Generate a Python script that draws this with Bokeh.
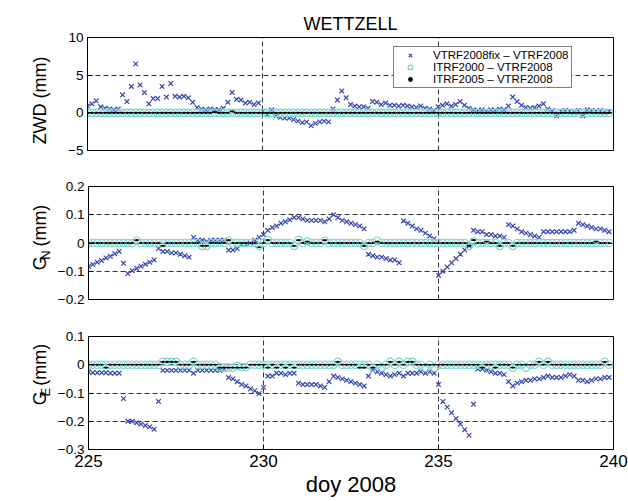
import math
from bokeh.plotting import figure
from bokeh.models import (ColumnDataSource, FixedTicker, Range1d, Legend, LegendItem, Label)
from bokeh.layouts import column, row
from bokeh.embed import file_html
from bokeh.resources import INLINE

# ---------------- data ----------------
title_text = "WETTZELL"
x_label = "doy 2008"
series_names = ["VTRF2008fix \u2013 VTRF2008", "ITRF2000 \u2013 VTRF2008", "ITRF2005 \u2013 VTRF2008"]

days = [225, 226, 227, 228, 229, 230, 231, 232, 233, 234, 235, 236, 237, 238, 239]
sample_hours = [0, 3, 6, 9, 12, 15, 18, 21]

x_ticks = [225, 230, 235, 240]
x_tick_labels = ["225", "230", "235", "240"]

zwd_ticks = [-5, 0, 5, 10]
zwd_tick_labels = ["\u22125", "0", "5", "10"]
gn_ticks = [-0.2, -0.1, 0, 0.1, 0.2]
gn_tick_labels = ["\u22120.2", "\u22120.1", "0", "0.1", "0.2"]
ge_ticks = [-0.3, -0.2, -0.1, 0, 0.1]
ge_tick_labels = ["\u22120.3", "\u22120.2", "\u22120.1", "0", "0.1"]

# ZWD (mm), one row per day, 3-hourly
zwd_fix = [
    [0.9, 1.2, 1.6, 0.8, 0.6, 0.5, 0.4, 0.5],
    [2.4, 1.5, 3.5, 6.5, 3.7, 2.7, 1.2, 1.9],
    [1.9, 3.5, 2.1, 3.9, 2.2, 2.1, 2.2, 2.0],
    [1.4, 0.7, 0.5, 0.4, 0.5, 0.4, 0.4, 0.6],
    [1.4, 2.7, 1.8, 1.7, 1.3, 1.4, 1.1, 1.3],
    [0.2, -0.3, 0.4, -0.4, -0.6, -0.7, -0.7, -0.9],
    [-1.1, -1.3, -1.2, -1.7, -1.4, -1.2, -1.1, -1.2],
    [0.5, 1.7, 2.9, 2.0, 1.1, 0.9, 0.8, 0.8],
    [0.6, 1.5, 1.4, 1.1, 1.3, 1.0, 1.0, 0.9],
    [1.0, 0.9, 0.8, 0.7, 0.9, 0.6, 0.5, 0.3],
    [0.8, 1.0, 1.2, 0.9, 1.1, 1.5, 1.0, 0.6],
    [0.4, 0.3, 0.4, 0.2, 0.4, 0.3, 0.5, 0.4],
    [0.9, 2.1, 1.5, 1.0, 0.7, 0.6, 0.7, 0.9],
    [1.2, 0.5, 0.3, -0.4, 0.2, 0.3, 0.2, 0.1],
    [0.3, -0.4, 0.4, 0.3, 0.2, 0.3, 0.1, 0.2],
]
zwd_itrf2000 = [
    [0.0, 0.0, 0.0, 0.0, 0.0, 0.0, 0.0, 0.0],
    [0.0, 0.0, 0.0, 0.0, 0.0, 0.0, 0.0, 0.0],
    [0.0, 0.0, 0.0, 0.0, 0.0, 0.0, 0.0, 0.0],
    [0.0, 0.0, 0.0, 0.0, 0.0, 0.0, 0.0, 0.0],
    [0.0, 0.0, 0.0, 0.0, 0.0, 0.0, 0.0, 0.0],
    [0.0, 0.0, 0.0, 0.0, 0.0, 0.0, 0.0, 0.0],
    [0.0, 0.0, 0.0, 0.0, 0.0, 0.0, 0.0, 0.0],
    [0.0, 0.0, 0.0, 0.0, 0.0, 0.0, 0.0, 0.0],
    [0.0, 0.0, 0.0, 0.0, 0.0, 0.0, 0.0, 0.0],
    [0.0, 0.0, 0.0, 0.0, 0.0, 0.0, 0.0, 0.0],
    [0.0, 0.0, 0.0, 0.0, 0.0, 0.0, 0.0, 0.0],
    [0.0, 0.0, 0.0, 0.0, 0.0, 0.0, 0.0, 0.0],
    [0.0, 0.0, 0.0, 0.0, 0.0, 0.0, 0.0, 0.0],
    [0.0, 0.0, 0.0, 0.0, 0.0, 0.0, 0.0, 0.0],
    [0.0, 0.0, 0.0, 0.0, 0.0, 0.0, 0.0, 0.0],
]
zwd_itrf2005 = [
    [0.0, 0.0, 0.0, 0.0, 0.0, 0.0, 0.0, 0.0],
    [0.0, 0.0, 0.0, 0.0, 0.0, 0.0, 0.0, 0.0],
    [0.0, 0.0, 0.0, 0.0, 0.0, 0.0, 0.0, 0.0],
    [0.0, 0.0, 0.0, 0.0, 0.0, 0.1, 0.0, 0.0],
    [0.0, 0.2, 0.0, 0.0, 0.0, 0.0, 0.0, 0.0],
    [0.0, 0.0, 0.0, 0.0, 0.0, 0.0, 0.0, 0.0],
    [0.0, 0.0, 0.0, 0.0, 0.0, 0.0, 0.0, 0.0],
    [0.0, 0.0, 0.0, 0.0, 0.0, 0.0, 0.0, 0.0],
    [0.0, 0.0, 0.0, 0.0, 0.0, 0.0, 0.0, 0.0],
    [0.0, 0.0, 0.0, 0.0, 0.0, 0.0, 0.0, 0.0],
    [0.0, 0.0, 0.0, 0.0, 0.0, 0.0, 0.0, 0.0],
    [0.0, 0.0, 0.0, 0.0, 0.0, 0.0, 0.0, 0.0],
    [0.0, 0.0, 0.0, 0.0, 0.0, 0.0, 0.0, 0.0],
    [0.0, 0.0, 0.0, 0.0, 0.0, 0.0, 0.0, 0.0],
    [0.0, 0.0, 0.0, 0.0, 0.0, 0.0, 0.0, 0.0],
]

# G_N (mm)
gn_fix = [
    [-0.083, -0.076, -0.068, -0.062, -0.053, -0.047, -0.038, -0.030],
    [-0.072, -0.108, -0.098, -0.090, -0.082, -0.075, -0.068, -0.060],
    [-0.020, -0.030, -0.030, -0.035, -0.035, -0.040, -0.045, -0.050],
    [0.020, 0.010, 0.010, 0.005, 0.010, 0.010, 0.010, 0.010],
    [-0.025, -0.025, -0.020, -0.005, -0.005, 0.000, 0.010, 0.020],
    [0.030, 0.045, 0.055, 0.060, 0.070, 0.075, 0.082, 0.090],
    [0.090, 0.085, 0.080, 0.080, 0.080, 0.080, 0.075, 0.085],
    [0.100, 0.090, 0.080, 0.075, 0.070, 0.065, 0.060, 0.050],
    [-0.040, -0.045, -0.050, -0.050, -0.055, -0.060, -0.060, -0.070],
    [0.078, 0.070, 0.060, 0.050, 0.045, 0.035, 0.025, 0.015],
    [-0.115, -0.100, -0.085, -0.070, -0.055, -0.040, -0.025, -0.010],
    [0.045, 0.040, 0.040, 0.030, 0.030, 0.025, 0.025, 0.020],
    [0.065, 0.060, 0.050, 0.040, 0.035, 0.030, 0.025, 0.020],
    [0.040, 0.040, 0.040, 0.040, 0.040, 0.040, 0.040, 0.045],
    [0.070, 0.065, 0.060, 0.055, 0.050, 0.050, 0.045, 0.040],
]
gn_itrf2000 = [
    [0.0, 0.0, 0.0, 0.0, 0.0, 0.0, 0.0, 0.0],
    [0.0, 0.0, 0.0, 0.008, 0.0, 0.0, 0.0, 0.0],
    [0.0, 0.0, 0.0, 0.0, 0.0, 0.0, 0.0, 0.0],
    [0.0, 0.0, -0.01, -0.01, 0.0, 0.0, 0.0, 0.0],
    [0.008, 0.0, 0.0, 0.0, 0.0, 0.0, 0.0, -0.01],
    [0.0, 0.01, 0.0, 0.0, 0.0, 0.0, 0.0, -0.01],
    [0.01, 0.0, 0.005, 0.0, 0.0, 0.0, 0.008, 0.0],
    [0.0, 0.0, 0.0, 0.0, 0.0, 0.0, 0.0, -0.01],
    [0.0, 0.0, 0.008, 0.0, 0.0, 0.0, 0.0, 0.0],
    [0.0, 0.0, 0.0, 0.0, 0.0, 0.0, 0.0, 0.0],
    [0.0, 0.0, 0.0, 0.0, 0.0, 0.0, 0.0, -0.01],
    [0.005, 0.0, 0.0, 0.0, 0.0, 0.0, -0.01, 0.0],
    [0.0, -0.01, 0.0, 0.0, 0.0, 0.0, 0.0, 0.0],
    [0.0, 0.0, 0.0, 0.0, 0.0, 0.0, 0.0, 0.0],
    [0.0, 0.0, 0.0, 0.0, 0.0, 0.0, 0.0, 0.0],
]
gn_itrf2005 = [
    [0.0, 0.0, 0.0, 0.0, 0.0, 0.0, 0.0, 0.0],
    [0.0, 0.0, 0.0, 0.01, 0.0, 0.0, 0.0, 0.0],
    [0.0, -0.01, 0.0, 0.0, 0.0, 0.0, 0.0, 0.0],
    [0.0, 0.0, -0.01, -0.01, 0.0, 0.0, 0.0, 0.0],
    [0.01, 0.0, 0.0, 0.0, 0.0, 0.0, 0.0, -0.015],
    [0.0, 0.01, 0.0, 0.0, 0.0, 0.0, 0.0, -0.01],
    [0.01, 0.0, 0.005, 0.0, 0.0, 0.0, 0.01, 0.0],
    [0.0, 0.0, 0.0, 0.0, 0.0, 0.0, 0.0, -0.01],
    [0.0, 0.0, 0.005, 0.0, 0.0, 0.0, 0.0, 0.0],
    [0.0, 0.0, 0.0, 0.0, 0.0, 0.0, 0.0, 0.0],
    [0.0, 0.0, 0.0, 0.0, 0.0, 0.0, 0.0, -0.01],
    [0.01, 0.0, 0.0, 0.005, 0.0, 0.0, -0.01, 0.0],
    [0.0, -0.01, 0.0, 0.0, 0.0, 0.0, 0.0, 0.0],
    [0.0, 0.0, 0.0, 0.0, 0.0, 0.0, 0.0, 0.0],
    [0.0, 0.0, 0.0, 0.0, 0.005, 0.0, 0.0, 0.0],
]

# G_E (mm)
ge_fix = [
    [-0.025, -0.028, -0.028, -0.028, -0.028, -0.030, -0.030, -0.030],
    [-0.120, -0.200, -0.200, -0.205, -0.210, -0.215, -0.220, -0.228],
    [-0.130, -0.020, -0.020, -0.020, -0.020, -0.020, -0.020, -0.020],
    [-0.030, -0.020, -0.020, -0.020, -0.020, -0.020, -0.020, -0.015],
    [-0.045, -0.050, -0.060, -0.070, -0.075, -0.085, -0.092, -0.102],
    [-0.080, -0.040, -0.040, -0.030, -0.030, -0.035, -0.030, -0.030],
    [-0.065, -0.070, -0.070, -0.070, -0.070, -0.075, -0.080, -0.060],
    [-0.040, -0.045, -0.050, -0.055, -0.060, -0.065, -0.070, -0.075],
    [-0.040, -0.020, -0.025, -0.030, -0.035, -0.040, -0.035, -0.030],
    [-0.040, -0.030, -0.030, -0.030, -0.025, -0.030, -0.025, -0.030],
    [-0.070, -0.130, -0.150, -0.170, -0.190, -0.210, -0.230, -0.250],
    [-0.140, -0.015, -0.015, -0.020, -0.025, -0.030, -0.030, -0.035],
    [-0.060, -0.075, -0.065, -0.060, -0.055, -0.055, -0.050, -0.050],
    [-0.045, -0.040, -0.045, -0.045, -0.045, -0.040, -0.035, -0.040],
    [-0.055, -0.055, -0.060, -0.055, -0.050, -0.050, -0.045, -0.045],
]
ge_itrf2000 = [
    [0.0, 0.0, 0.0, 0.0, 0.0, 0.0, 0.0, 0.0],
    [0.0, 0.0, 0.0, 0.0, 0.0, 0.0, 0.0, 0.0],
    [0.0, 0.01, 0.01, 0.01, 0.01, 0.0, 0.0, 0.0],
    [0.01, 0.0, 0.0, 0.0, 0.0, 0.0, -0.008, -0.01],
    [-0.01, -0.01, -0.005, -0.008, -0.008, 0.0, 0.0, 0.0],
    [0.0, 0.0, 0.0, 0.0, 0.0, 0.0, 0.0, 0.0],
    [0.0, 0.0, 0.0, 0.0, 0.0, 0.0, 0.0, 0.0],
    [0.0, 0.01, 0.0, 0.0, 0.0, 0.0, 0.0, 0.0],
    [0.0, -0.01, 0.0, -0.01, 0.0, 0.01, 0.0, 0.01],
    [0.0, 0.01, 0.01, 0.0, 0.0, -0.01, 0.0, -0.01],
    [0.0, 0.0, 0.0, 0.0, 0.0, 0.0, 0.0, 0.0],
    [0.0, 0.0, 0.0, 0.0, 0.0, 0.0, 0.0, 0.0],
    [0.0, -0.01, 0.0, 0.0, -0.01, 0.0, 0.0, 0.01],
    [0.0, 0.01, 0.0, 0.0, 0.0, 0.0, 0.0, 0.0],
    [0.0, 0.0, 0.0, 0.0, 0.0, 0.0, 0.01, 0.0],
]
ge_itrf2005 = [
    [0.0, 0.0, 0.0, 0.0, -0.01, 0.0, 0.0, 0.0],
    [0.0, 0.0, 0.0, 0.0, 0.0, 0.0, 0.0, 0.0],
    [0.0, 0.01, 0.01, 0.01, 0.01, 0.0, 0.0, 0.0],
    [0.01, 0.0, 0.0, 0.0, 0.0, 0.0, -0.01, -0.01],
    [-0.01, -0.01, -0.01, -0.01, -0.01, 0.0, 0.0, 0.0],
    [0.0, -0.01, 0.0, -0.01, 0.0, -0.01, 0.0, -0.01],
    [0.0, 0.0, 0.0, 0.0, 0.0, 0.0, 0.0, 0.0],
    [0.0, 0.01, 0.0, 0.0, 0.0, 0.0, -0.01, -0.01],
    [0.0, -0.01, 0.0, 0.0, 0.0, 0.01, 0.0, 0.01],
    [0.0, 0.01, 0.01, 0.0, 0.0, 0.0, 0.0, 0.0],
    [0.0, 0.0, 0.0, 0.0, 0.0, 0.0, 0.0, 0.0],
    [0.0, 0.0, -0.01, 0.0, 0.0, -0.01, 0.0, 0.0],
    [0.0, -0.01, 0.0, 0.0, 0.0, 0.0, 0.0, 0.01],
    [0.0, 0.01, 0.0, 0.0, 0.0, 0.0, 0.0, 0.0],
    [0.0, 0.0, 0.0, 0.0, 0.0, 0.0, 0.01, 0.0],
]

# ---------------- styling ----------------
FONT = "Liberation Sans"
BLUE = "#3646b0"
CYAN = "#7fd6cf"
FRAME_H = 113
LABEL_W = 54
MAIN_W = 574

t = [d + h / 24.0 for d in days for h in sample_hours]


def flat(rows):
    return [v for row_ in rows for v in row_]


x_range = Range1d(225, 240)


def make_panel(height, b_top, b_bottom, ylim, yticks, ylabels, fix, i2000, i2005, show_x):
    p = figure(width=MAIN_W, height=height, x_range=x_range, y_range=Range1d(*ylim),
               output_backend="svg", toolbar_location=None,
               min_border_left=33, min_border_right=15,
               min_border_top=b_top, min_border_bottom=b_bottom,
               background_fill_color="white", border_fill_color="white",
               outline_line_color="black", outline_line_width=1)
    src = ColumnDataSource(dict(t=t, fix=flat(fix), a=flat(i2000), b=flat(i2005)))
    r1 = p.scatter("t", "fix", source=src, marker="x", size=6.5, line_color=BLUE, line_width=1.2)
    r2 = p.scatter("t", "a", source=src, marker="circle", size=7.5, line_color=CYAN,
                   fill_color=None, line_width=1.2)
    p.scatter("t", "b", source=src, marker="dash", size=5, line_color="black", line_width=1.2)
    r3 = p.scatter("t", "b", source=src, marker="circle", size=2.2, line_color=None,
                   fill_color="black")

    p.yaxis.ticker = FixedTicker(ticks=yticks)
    p.yaxis.major_label_overrides = dict(zip(yticks, ylabels))
    p.xaxis.ticker = FixedTicker(ticks=x_ticks)
    p.xaxis.major_label_overrides = dict(zip(x_ticks, x_tick_labels))
    for ax in (p.xaxis[0], p.yaxis[0]):
        ax.major_tick_in = 5
        ax.major_tick_out = 0
        ax.minor_tick_line_color = None
        ax.axis_line_color = "black"
        ax.major_tick_line_color = "black"
        ax.major_label_text_font = FONT
        ax.major_label_text_color = "black"
    p.yaxis.major_label_text_font_size = "13.5px"
    p.yaxis.major_label_standoff = 4
    if show_x:
        p.xaxis.major_label_text_font_size = "17px"
        p.xaxis.major_label_standoff = 5
        p.xaxis.axis_label = x_label
        p.xaxis.axis_label_text_font = FONT
        p.xaxis.axis_label_text_font_size = "22px"
        p.xaxis.axis_label_text_font_style = "normal"
        p.xaxis.axis_label_text_color = "black"
        p.xaxis.axis_label_standoff = 2
    else:
        p.xaxis.visible = False

    p.grid.grid_line_color = "black"
    p.grid.grid_line_dash = "5 3"
    p.grid.grid_line_width = 0.8
    p.xgrid.ticker = FixedTicker(ticks=x_ticks)
    p.ygrid.ticker = FixedTicker(ticks=yticks)
    return p, (r1, r2, r3)


def label_fig(height, b_top, main, sub=None):
    q = figure(width=LABEL_W, height=height, x_range=Range1d(0, LABEL_W),
               y_range=Range1d(0, height), output_backend="svg", toolbar_location=None,
               min_border_left=0, min_border_right=0, min_border_top=0, min_border_bottom=0,
               outline_line_color=None, background_fill_color="white",
               border_fill_color="white")
    q.axis.visible = False
    q.grid.visible = False
    yc = height - b_top - FRAME_H / 2
    xb = 39.5
    common = dict(x_units="data", y_units="data", angle=math.pi / 2,
                  text_baseline="middle", text_font=FONT, text_color="black")
    if sub is None:
        q.add_layout(Label(x=xb, y=yc, text=main, text_align="center",
                           text_font_size="18px", **common))
        return q
    w_main = 0.778 * 18
    w_sub = 0.722 * 13
    gap = 0.278 * 18 + 3
    w_rest = (0.333 + 0.833 + 0.833 + 0.333) * 18
    y0 = yc - (w_main + w_sub + gap + w_rest) / 2
    q.add_layout(Label(x=xb, y=y0, text=main, text_align="left",
                       text_font_size="18px", **common))
    q.add_layout(Label(x=xb + 5, y=y0 + w_main, text=sub, text_align="left",
                       text_font_size="13px", **common))
    q.add_layout(Label(x=xb, y=y0 + w_main + w_sub + gap, text="(mm)",
                       text_align="left", text_font_size="18px", **common))
    return q


H1, T1, B1 = 168, 37, 18
H2, T2, B2 = 150, 18, 19
H3, T3, B3 = 183, 18, 52

p1, rs = make_panel(H1, T1, B1, (-5, 10), zwd_ticks, zwd_tick_labels,
                    zwd_fix, zwd_itrf2000, zwd_itrf2005, False)
p1.title.text = title_text
p1.title.align = "center"
p1.title.text_font = FONT
p1.title.text_font_size = "18px"
p1.title.text_font_style = "normal"
p1.title.text_color = "black"
p1.title.standoff = 8

legend = Legend(items=[LegendItem(label=series_names[0], renderers=[rs[0]]),
                       LegendItem(label=series_names[1], renderers=[rs[1]]),
                       LegendItem(label=series_names[2], renderers=[rs[2]])],
                location=(306, 62), label_text_font=FONT, label_text_font_size="11.5px",
                label_text_color="black", border_line_color="black", border_line_width=1,
                background_fill_color="white", background_fill_alpha=1.0,
                glyph_width=28, glyph_height=12, label_height=12, label_standoff=9,
                padding=2, spacing=0, margin=0)
p1.add_layout(legend)

p2, _ = make_panel(H2, T2, B2, (-0.2, 0.2), gn_ticks, gn_tick_labels,
                   gn_fix, gn_itrf2000, gn_itrf2005, False)
p3, _ = make_panel(H3, T3, B3, (-0.3, 0.1), ge_ticks, ge_tick_labels,
                   ge_fix, ge_itrf2000, ge_itrf2005, True)

l1 = label_fig(H1, T1, "ZWD (mm)")
l2 = label_fig(H2, T2, "G", "N")
l3 = label_fig(H3, T3, "G", "E")

layout = column(row(l1, p1, spacing=0), row(l2, p2, spacing=0), row(l3, p3, spacing=0),
                spacing=0)
open("out.html", "w").write(file_html(layout, INLINE))
